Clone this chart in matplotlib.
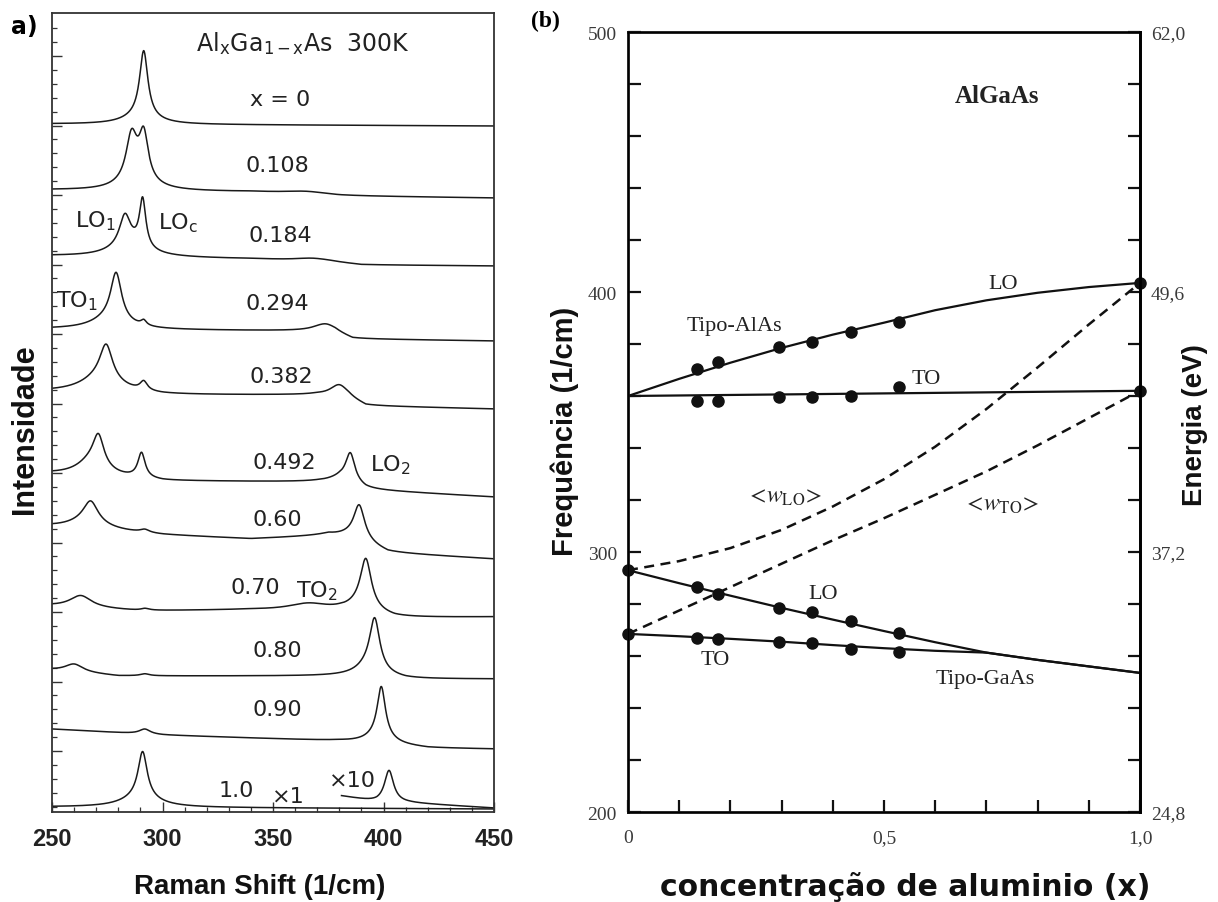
import numpy as np
import matplotlib.pyplot as plt
from matplotlib.ticker import MultipleLocator, FixedLocator

plt.rcParams['font.family'] = ['DejaVu Sans']
plt.rcParams['mathtext.fontset'] = 'stix'

# ---------------- painel (a): espectros Raman ----------------
shift = np.linspace(250, 450, 1601)

comp_labels = ['x = 0', '0.108', '0.184', '0.294', '0.382', '0.492',
               '0.60', '0.70', '0.80', '0.90', '1.0']

# linha de base de cada espectro (intensidade arb.)
base_x = [
    [250, 450],
    [250, 340, 380, 450],
    [250, 340, 375, 390, 450],
    [250, 300, 370, 378, 386, 450],
    [250, 300, 370, 384, 392, 450],
    [250, 300, 370, 380, 392, 450],
    [250, 300, 340, 375, 392, 402, 450],
    [250, 290, 340, 380, 392, 405, 450],
    [250, 280, 390, 410, 450],
    [250, 300, 380, 420, 450],
    [250, 450],
]
base_y = [
    [688, 686],
    [622, 620, 616, 614],
    [556, 553, 550, 547, 546],
    [483, 482, 481, 479, 473, 471],
    [420, 417, 417, 413, 406, 403],
    [338, 331, 330, 329, 322, 315],
    [285, 277, 273, 276, 266, 259, 253],
    [206, 201, 202, 200, 197, 194, 195],
    [142, 136, 136, 133, 133],
    [83, 77, 71, 64, 63],
    [5, 3],
]
# picos: (centro 1/cm, altura, largura)
peaks = [
    [(291.5, 66, 4.5), (290, 8, 18)],
    [(286, 45, 6), (291.5, 45, 5), (288.5, 10, 18), (365, 3, 25)],
    [(283, 30, 6), (291, 48, 3.5), (285, 12, 20), (368, 3, 20)],
    [(279, 48, 6), (276, 10, 20), (291.5, 5, 3), (374, 8, 12)],
    [(274.5, 35, 7), (272, 15, 22), (291.5, 9, 4), (380, 13, 10)],
    [(271, 30, 6), (268, 15, 16), (290.5, 25, 4), (385, 28, 5), (382, 6, 15)],
    [(267.5, 21, 8), (266, 8, 20), (292, 3, 5), (389, 34, 6), (386, 6, 18)],
    [(263, 12, 12), (292, 2, 5), (366, 7, 22), (392, 48, 6), (390, 8, 16)],
    [(260, 8, 10), (292, 2, 5), (396, 50, 5.5), (394, 10, 14)],
    [(292, 5, 6), (399, 50, 4.5), (398, 8, 14)],
    [(291, 46, 5), (290, 10, 20)],
]
# trecho x10 do espectro x = 1.0
x10_base_x = [381, 397, 412, 450]
x10_base_y = [16, 10, 9, 4]
x10_peaks = [(402.5, 32, 5)]


def spectrum(x, bx, by, pk):
    y = np.interp(x, bx, by)
    for c, h, w in pk:
        y = y + h / (1 + (2 * (x - c) / w) ** 2)
    return y


fig = plt.figure(figsize=(12.18, 9.03), dpi=100)
ax_a = fig.add_axes([52 / 1218, 1 - 813 / 903, 442 / 1218, 799 / 903])

for bx, by, pk in zip(base_x, base_y, peaks):
    ax_a.plot(shift, spectrum(shift, bx, by, pk), color='#1a1a1a', lw=1.1)

seg = shift[shift >= x10_base_x[0]]
ax_a.plot(seg, spectrum(seg, x10_base_x, x10_base_y, x10_peaks), color='#1a1a1a', lw=1.1)

ax_a.set_xlim(250, 450)
ax_a.set_ylim(0, 799)
ax_a.xaxis.set_major_locator(MultipleLocator(50))
ax_a.xaxis.set_minor_locator(MultipleLocator(10))
ax_a.yaxis.set_major_locator(FixedLocator(np.arange(61, 760, 69.5)))
ax_a.yaxis.set_minor_locator(FixedLocator(np.arange(61 - 13.9 * 4, 790, 13.9)))
ax_a.tick_params(which='both', direction='in', color='#333')
ax_a.tick_params(which='major', length=7, width=1)
ax_a.tick_params(which='minor', length=3.5, width=0.9)
ax_a.tick_params(axis='y', labelleft=False)
ax_a.tick_params(axis='x', pad=11)
for lab in ax_a.get_xticklabels():
    lab.set_fontfamily('Liberation Sans')
    lab.set_fontweight('bold')
    lab.set_fontsize(17)
    lab.set_color('#222')
for sp in ax_a.spines.values():
    sp.set_color('#333')
    sp.set_linewidth(1.3)

# rotulos de composicao (posicao em cm-1, intensidade)
lab_x = [353.2, 351.8, 353.2, 351.8, 353.6, 355, 351.8, 341.8, 351.8, 351.8, 333.2]
lab_y = [713, 647, 577, 509, 436, 350, 293, 225, 162, 103, 22]
for t, lx, ly in zip(comp_labels, lab_x, lab_y):
    ax_a.text(lx, ly, t, fontsize=16, ha='center', va='center', color='#222')

kw_a = dict(fontsize=16, ha='center', va='center', color='#222')
ax_a.text(363.6, 769, r'Al$_\mathregular{x}$Ga$_\mathregular{1-x}$As  300K', fontsize=17,
          ha='center', va='center', color='#222')
ax_a.text(269.5, 593, r'LO$_\mathregular{1}$', **kw_a)
ax_a.text(306.8, 591, r'LO$_\mathregular{c}$', **kw_a)
ax_a.text(261.4, 513, r'TO$_\mathregular{1}$', **kw_a)
ax_a.text(403.2, 348, r'LO$_\mathregular{2}$', **kw_a)
ax_a.text(370, 223, r'TO$_\mathregular{2}$', **kw_a)
ax_a.text(356.8, 16, '×1', **kw_a)
ax_a.text(385.9, 32, '×10', **kw_a)

fig.text(24 / 1218, 1 - 27 / 903, 'a)', fontsize=17, fontweight='bold',
         ha='center', va='center')
fig.text(260 / 1218, 1 - 887 / 903, 'Raman Shift (1/cm)', fontsize=20, fontweight='bold',
         family='Liberation Sans', ha='center', va='center', color='#111')
fig.text(25 / 1218, 1 - 429 / 903, 'Intensidade', fontsize=22, fontweight='bold',
         family='Liberation Sans', rotation=90, ha='center', va='center', color='#111')

# ---------------- painel (b): frequencias x composicao ----------------
x_al = [0.135, 0.175, 0.295, 0.36, 0.435, 0.53]
lo_alas_pts = [370.4, 373, 378.7, 380.8, 384.5, 388.6]
to_alas_pts = [358.2, 358.2, 359.5, 359.5, 360, 363.3]
lo_gaas_pts = [286.7, 283.8, 278.3, 277, 273.5, 269]
to_gaas_pts = [267.1, 266.7, 265.4, 265, 262.7, 261.7]
end_x = [0, 0, 1, 1]
end_f = [293, 268.5, 403.5, 362]

curve_x = [0, 0.1, 0.2, 0.3, 0.4, 0.5, 0.6, 0.7, 0.8, 0.9, 1.0]
lo_alas_fit = [360, 366.6, 372.8, 378.5, 383.6, 388.2, 393, 396.8, 399.7, 401.9, 403.5]
to_alas_fit = [360, 360.2, 360.4, 360.6, 360.8, 361, 361.2, 361.4, 361.6, 361.8, 362]
lo_gaas_fit = [293, 288, 283.2, 278.5, 274, 269.6, 265.3, 261.3, 258.5, 256, 253.5]
to_gaas_fit = [268.5, 267.6, 266.6, 265.5, 264.2, 263, 262, 261.3, 258.5, 256, 253.5]
w_lo = [293, 296.5, 301.5, 308.5, 317.5, 328, 340.5, 355, 371, 387.5, 403.5]
w_to = [268.5, 277.5, 286.5, 295.5, 304.5, 313, 322, 331, 341, 351.5, 362]

ax_b = fig.add_axes([628 / 1218, 1 - 813 / 903, 512 / 1218, 780 / 903])
for fit in (lo_alas_fit, to_alas_fit, lo_gaas_fit, to_gaas_fit):
    ax_b.plot(curve_x, fit, color='#111', lw=1.6)
for fit in (w_lo, w_to):
    ax_b.plot(curve_x, fit, color='#111', lw=1.8, ls=(0, (4, 2.6)))
for pts in (lo_alas_pts, to_alas_pts, lo_gaas_pts, to_gaas_pts):
    ax_b.plot(x_al, pts, 'o', color='#111', ms=8, clip_on=False)
ax_b.plot(end_x, end_f, 'o', color='#111', ms=8, clip_on=False)

ax_b.set_xlim(0, 1)
ax_b.set_ylim(200, 500)
ax_b.xaxis.set_major_locator(FixedLocator([0, 0.5, 1.0]))
ax_b.xaxis.set_minor_locator(MultipleLocator(0.1))
ax_b.yaxis.set_major_locator(MultipleLocator(100))
ax_b.yaxis.set_minor_locator(MultipleLocator(20))
ax_b.set_xticklabels(['0', '0,5', '1,0'])
ax_b.tick_params(which='both', direction='in', length=9, width=1.6, color='#111')
ax_b.tick_params(axis='x', pad=12)
ax_b.tick_params(axis='y', pad=8)
for sp in ax_b.spines.values():
    sp.set_linewidth(2)
    sp.set_color('#111')

ax_r = ax_b.twinx()
ax_r.set_ylim(200, 500)
ax_r.yaxis.set_major_locator(FixedLocator([200, 300, 400, 500]))
ax_r.yaxis.set_minor_locator(MultipleLocator(20))
ax_r.set_yticklabels(['24,8', '37,2', '49,6', '62,0'])
ax_r.tick_params(which='both', direction='in', length=9, width=1.6, color='#111', pad=8)
ax_r.spines['right'].set_linewidth(2)

for lab in ax_b.get_xticklabels() + ax_b.get_yticklabels() + ax_r.get_yticklabels():
    lab.set_fontfamily('Liberation Serif')
    lab.set_fontsize(14)
    lab.set_color('#3a3a3a')

kw_b = dict(family='Liberation Serif', fontsize=16, ha='center', va='center', color='#222')
ax_b.text(0.721, 475.4, 'AlGaAs', family='Liberation Serif', fontsize=18, fontweight='bold',
          ha='center', va='center', color='#222')
ax_b.text(0.732, 403.1, 'LO', **kw_b)
ax_b.text(0.207, 387.3, 'Tipo-AlAs', **kw_b)
ax_b.text(0.582, 366.9, 'TO', **kw_b)
ax_b.text(0.381, 284.2, 'LO', **kw_b)
ax_b.text(0.170, 258.5, 'TO', **kw_b)
ax_b.text(0.697, 251.2, 'Tipo-GaAs', **kw_b)
ax_b.text(0.305, 321.9, r'$<\!w_{\mathrm{LO}}\!>$', fontsize=17, ha='center', va='center', color='#222')
ax_b.text(0.729, 318.8, r'$<\!w_{\mathrm{TO}}\!>$', fontsize=17, ha='center', va='center', color='#222')

fig.text(545 / 1218, 1 - 21 / 903, '(b)', family='Liberation Serif', fontsize=17,
         fontweight='bold', ha='center', va='center')
fig.text(565 / 1218, 1 - 431 / 903, 'Frequência (1/cm)', fontsize=21, fontweight='bold',
         family='Liberation Sans', rotation=90, ha='center', va='center', color='#111')
fig.text(1195 / 1218, 1 - 425 / 903, 'Energia (eV)', fontsize=20, fontweight='bold',
         family='Liberation Sans', rotation=90, ha='center', va='center', color='#111')
fig.text(905 / 1218, 1 - 887 / 903, 'concentração de aluminio (x)', fontsize=21.5,
         fontweight='bold', ha='center', va='center', color='#111')

fig.savefig('out.png', dpi=100)
